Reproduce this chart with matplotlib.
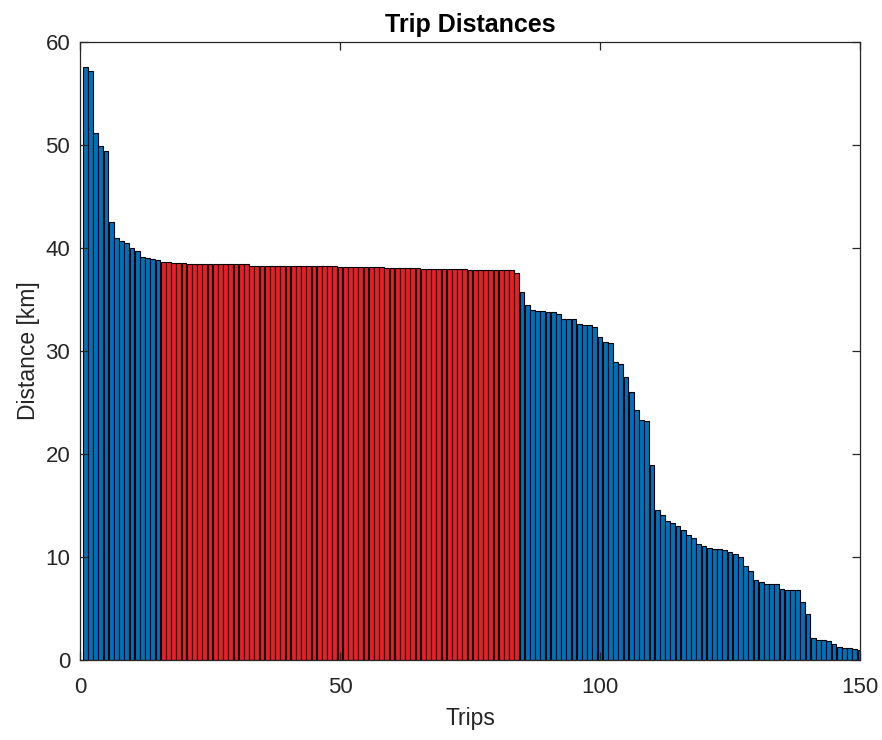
import numpy as np
import matplotlib
matplotlib.use("Agg")
import matplotlib.pyplot as plt

# distances per trip [km], sorted longest first
head_km = [57.6, 57.2, 51.2, 49.9, 49.4, 42.5, 41.0, 40.7, 40.5, 40.0,
           39.7, 39.1, 39.0, 38.9, 38.8]
flat_km = [38.6, 38.6, 38.5, 38.5, 38.5, 38.4, 38.4, 38.4, 38.4, 38.4,
           38.4, 38.4, 38.4, 38.4, 38.4, 38.4, 38.4, 38.3, 38.3, 38.3,
           38.3, 38.3, 38.3, 38.3, 38.3, 38.3, 38.3, 38.3, 38.3, 38.3,
           38.3, 38.3, 38.3, 38.3, 38.2, 38.2, 38.2, 38.2, 38.2, 38.2,
           38.2, 38.2, 38.2, 38.1, 38.1, 38.1, 38.1, 38.1, 38.1, 38.1,
           38.0, 38.0, 38.0, 38.0, 38.0, 38.0, 38.0, 38.0, 38.0, 37.9,
           37.9, 37.9, 37.9, 37.9, 37.9, 37.9, 37.9, 37.9, 37.6]
tail_km = [35.7, 34.5, 34.0, 33.9, 33.9, 33.8, 33.8, 33.6, 33.1, 33.1,
           33.1, 32.6, 32.5, 32.5, 32.3, 31.4, 30.9, 30.8, 28.9, 28.7,
           27.5, 26.0, 24.3, 23.3, 23.2, 18.9, 14.6, 14.1, 13.5, 13.3,
           13.0, 12.6, 12.1, 11.8, 11.3, 11.1, 10.9, 10.8, 10.8, 10.7,
           10.5, 10.3, 10.0, 9.1, 8.6, 7.8, 7.6, 7.4, 7.4, 7.4,
           6.9, 6.8, 6.8, 6.8, 5.6, 4.5, 2.1, 1.9, 1.9, 1.8,
           1.6, 1.3, 1.2, 1.2, 1.1, 1.0]

plt.rcParams['font.family'] = ['Liberation Sans', 'DejaVu Sans']

blue = '#0072BD'
red = '#EE1C25'
edge = '#000000'

n_head = len(head_km)
n_flat = len(flat_km)
x_head = np.arange(1, n_head + 1)
x_flat = np.arange(n_head + 1, n_head + n_flat + 1)
x_tail = np.arange(n_head + n_flat + 1, n_head + n_flat + len(tail_km) + 1)

fig = plt.figure(figsize=(8.82, 7.4), dpi=100)
ax = fig.add_axes([80 / 882, 80 / 740, 780 / 882, 618 / 740])

bw = 0.9
ax.bar(x_head, head_km, width=bw, color=blue, edgecolor=edge, linewidth=0.8)
ax.bar(x_flat, flat_km, width=bw, color=red, edgecolor=edge, linewidth=0.8)
ax.bar(x_tail, tail_km, width=bw, color=blue, edgecolor=edge, linewidth=0.8)

ax.set_xlim(0, 150)
ax.set_ylim(0, 60)
ax.set_xticks([0, 50, 100, 150])
ax.set_yticks(np.arange(0, 61, 10))

axcol = '#262626'
for s in ax.spines.values():
    s.set_color(axcol)
    s.set_linewidth(0.9)
ax.tick_params(direction='in', length=6, width=0.9, colors=axcol,
               labelsize=16, top=True, right=True, pad=7)
ax.tick_params(axis='x', pad=12)

ax.set_xlabel('Trips', fontsize=16.5, color=axcol, labelpad=7)
ax.set_ylabel('Distance [km]', fontsize=16.5, color=axcol, labelpad=4)
ax.set_title('Trip Distances', fontsize=18, fontweight='bold', color='black', pad=7)

fig.savefig('out.png', dpi=100)
